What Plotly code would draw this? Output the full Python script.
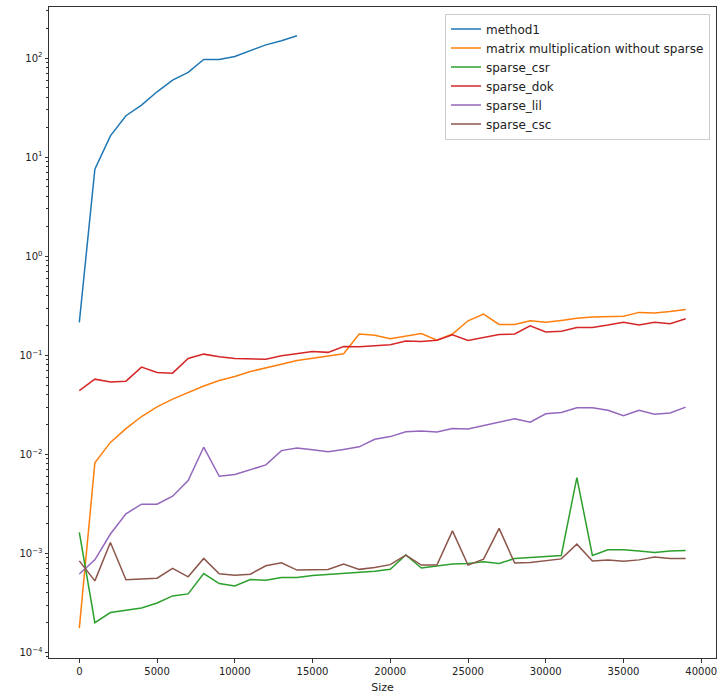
import plotly.graph_objects as go

# Matrix sizes tested (step 1000)
sizes = list(range(0, 40000, 1000))
sizes_method1 = list(range(0, 15000, 1000))

# Runtime in seconds for each approach
method1 = [0.215, 7.57, 16.4, 26.2, 33.5, 45.7, 60.0, 71.7, 97.0, 97.0,
           104.0, 120.0, 136.0, 150.0, 168.0]

matmul_dense = [1.76e-4, 8.2e-3, 0.0132, 0.0182, 0.0241, 0.0302, 0.0361, 0.0422, 0.0489, 0.0557,
                0.0611, 0.0686, 0.0741, 0.0813, 0.0885, 0.0927, 0.0986, 0.1035, 0.164, 0.159,
                0.147, 0.157, 0.166, 0.142, 0.164, 0.223, 0.261, 0.205, 0.205, 0.223,
                0.215, 0.225, 0.236, 0.243, 0.245, 0.248, 0.271, 0.267, 0.277, 0.290]

sparse_csr = [1.63e-3, 2.0e-4, 2.53e-4, 2.67e-4, 2.81e-4, 3.16e-4, 3.72e-4, 3.90e-4, 6.26e-4, 4.96e-4,
              4.70e-4, 5.45e-4, 5.36e-4, 5.70e-4, 5.70e-4, 5.97e-4, 6.11e-4, 6.26e-4, 6.35e-4, 6.61e-4,
              6.9e-4, 9.63e-4, 7.11e-4, 7.45e-4, 7.80e-4, 7.92e-4, 8.24e-4, 7.92e-4, 8.89e-4, 9.10e-4,
              9.32e-4, 9.53e-4, 5.83e-3, 9.53e-4, 1.09e-3, 1.09e-3, 1.06e-3, 1.02e-3, 1.06e-3, 1.07e-3]

sparse_dok = [0.0440, 0.0574, 0.0536, 0.0548, 0.0759, 0.0671, 0.0660, 0.0929, 0.1027, 0.0966,
              0.0929, 0.0929, 0.0914, 0.0988, 0.1044, 0.1094, 0.107, 0.1228, 0.1216, 0.1256,
              0.1275, 0.139, 0.138, 0.142, 0.161, 0.141, 0.152, 0.162, 0.164, 0.198,
              0.172, 0.175, 0.191, 0.191, 0.202, 0.216, 0.202, 0.216, 0.208, 0.234]

sparse_lil = [6.2e-4, 8.6e-4, 1.57e-3, 2.51e-3, 3.14e-3, 3.14e-3, 3.78e-3, 5.43e-3, 0.0118, 6.0e-3,
              6.25e-3, 6.97e-3, 7.82e-3, 0.0109, 0.0116, 0.0111, 0.0106, 0.0112, 0.0119, 0.0142,
              0.0151, 0.0169, 0.0172, 0.0168, 0.0182, 0.0180, 0.0195, 0.0211, 0.0229, 0.0211,
              0.0257, 0.0265, 0.0296, 0.0296, 0.0278, 0.0245, 0.0278, 0.0254, 0.0262, 0.0300]

sparse_csc = [8.4e-4, 5.28e-4, 1.29e-3, 5.41e-4, 5.50e-4, 5.62e-4, 7.05e-4, 5.80e-4, 8.89e-4, 6.22e-4,
              6.03e-4, 6.17e-4, 7.50e-4, 8.04e-4, 6.78e-4, 6.88e-4, 6.88e-4, 7.80e-4, 6.9e-4, 7.21e-4,
              7.7e-4, 9.6e-4, 7.62e-4, 7.62e-4, 1.69e-3, 7.62e-4, 8.75e-4, 1.79e-3, 7.98e-4, 8.1e-4,
              8.4e-4, 8.8e-4, 1.24e-3, 8.4e-4, 8.6e-4, 8.35e-4, 8.6e-4, 9.2e-4, 8.9e-4, 8.9e-4]

# Decade ticks on the log axis and their labels
exponents = [-4, -3, -2, -1, 0, 1, 2]
y_tickvals = [10.0 ** e for e in exponents]
y_ticktext = ["10<sup>%s</sup>" % (str(e).replace("-", "\u2212")) for e in exponents]
y_minorvals = [m * 10.0 ** e for e in range(-5, 3) for m in range(2, 10)]

series = [
    ("method1", sizes_method1, method1, "#1f77b4"),
    ("matrix multiplication without sparse", sizes, matmul_dense, "#ff7f0e"),
    ("sparse_csr", sizes, sparse_csr, "#2ca02c"),
    ("sparse_dok", sizes, sparse_dok, "#d62728"),
    ("sparse_lil", sizes, sparse_lil, "#9467bd"),
    ("sparse_csc", sizes, sparse_csc, "#8c564b"),
]

fig = go.Figure()
for name, xs, ys, color in series:
    fig.add_trace(go.Scatter(x=xs, y=ys, mode="lines", name=name,
                             line=dict(color=color, width=1.5)))

axis_color = "#333333"
font = dict(family="DejaVu Sans", size=10, color="#222222")

fig.update_layout(
    width=719, height=697,
    margin=dict(l=49, r=3, t=7, b=39),
    paper_bgcolor="white", plot_bgcolor="white",
    font=font,
    showlegend=True,
    legend=dict(x=0.991, y=0.99, xanchor="right", yanchor="top",
                bgcolor="rgba(255,255,255,0.8)", bordercolor="#cccccc", borderwidth=1,
                font=dict(family="DejaVu Sans", size=12, color="#222222"),
                tracegroupgap=0),
    xaxis=dict(
        range=[-1950, 40950], dtick=5000, tick0=0, tickformat="d",
        showgrid=False, zeroline=False,
        showline=True, linecolor=axis_color, linewidth=1, mirror=True,
        ticks="outside", ticklen=3.5, tickcolor=axis_color,
        title=dict(text="Size", font=dict(family="DejaVu Sans", size=11, color="#222222"),
                   standoff=7),
    ),
    yaxis=dict(
        type="log", range=[-4.056, 2.516],
        tickmode="array", tickvals=y_tickvals, ticktext=y_ticktext,
        showgrid=False, zeroline=False,
        showline=True, linecolor=axis_color, linewidth=1, mirror=True,
        ticks="outside", ticklen=3.5, tickcolor=axis_color,
        minor=dict(tickmode="array", tickvals=y_minorvals, ticks="outside",
                   ticklen=2, tickcolor=axis_color, showgrid=False),
    ),
)

fig.write_html("out.html")
